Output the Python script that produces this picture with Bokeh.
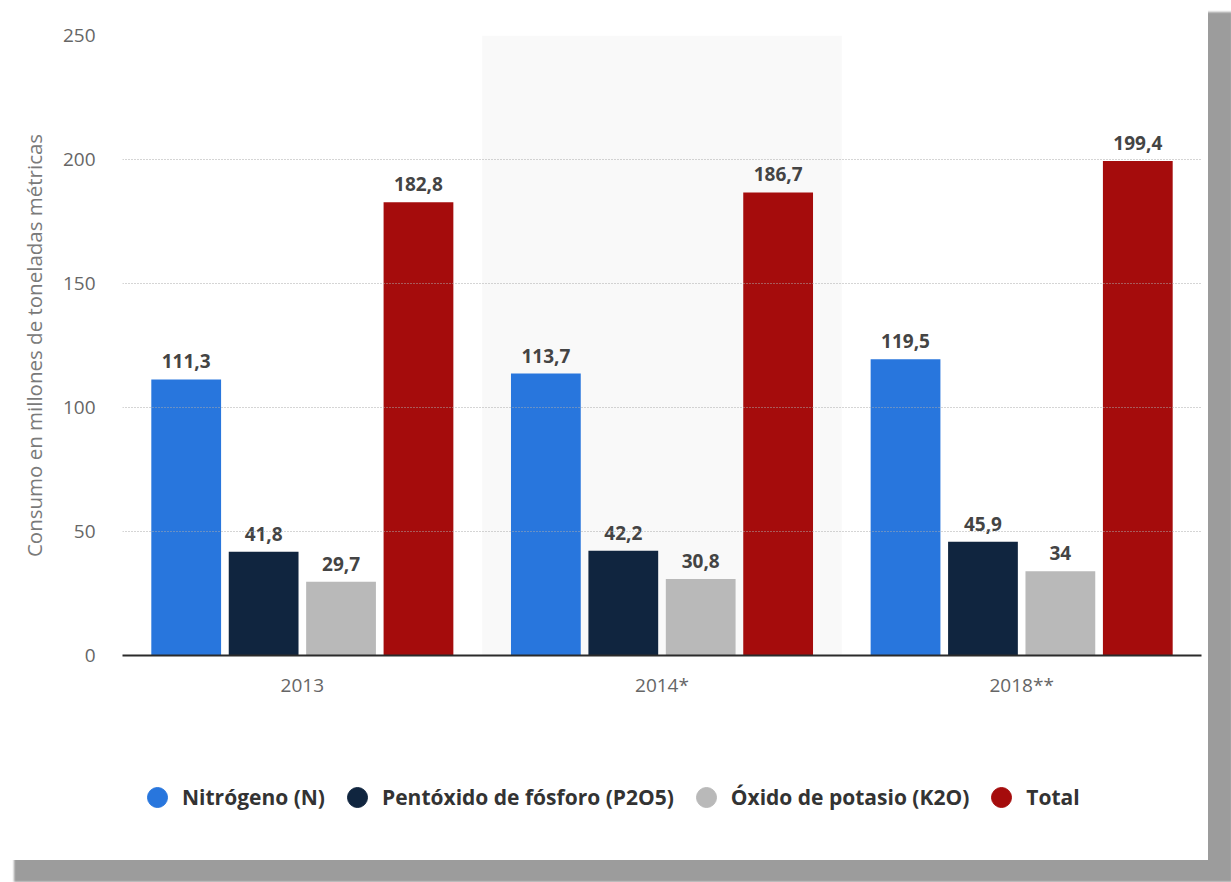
from bokeh.plotting import figure
from bokeh.layouts import column
from bokeh.models import (ColumnDataSource, FactorRange, FixedTicker, Legend, LegendItem, Range1d)
from bokeh.transform import dodge
from bokeh.core.properties import value
from bokeh.embed import file_html
from bokeh.resources import INLINE

# ---- data ----
years = ["2013", "2014*", "2018**"]
nitrogeno = [111.3, 113.7, 119.5]
pentoxido = [41.8, 42.2, 45.9]
oxido = [29.7, 30.8, 34]
total = [182.8, 186.7, 199.4]
series_names = ["Nitrógeno (N)", "Pentóxido de fósforo (P2O5)", "Óxido de potasio (K2O)", "Total"]
series_values = [nitrogeno, pentoxido, oxido, total]
colors = ["#2876dd", "#10253f", "#b9b9b9", "#a50c0c"]
highlighted = ["2014*"]
y_ticks = [0, 50, 100, 150, 200, 250]
y_max = 250
y_title = "Consumo en millones de toneladas métricas"

FONT = "Open Sans"

xr = FactorRange(*years, range_padding=0)
yr = Range1d(0, y_max)
p = figure(x_range=xr, y_range=yr,
           width=1208, height=710, output_backend="svg", toolbar_location=None,
           min_border_left=122, min_border_right=7, min_border_top=35,
           min_border_bottom=55)
p.background_fill_color = "white"
p.border_fill_color = "white"
p.outline_line_color = None

# highlight band
p.vbar(x=highlighted, top=[y_max] * len(highlighted), width=1, bottom=0,
       fill_color="#f9f9f9", line_color=None, level="underlay")

offsets = [-0.3229, -0.1076, 0.1076, 0.3229]
bar_w = 0.194
sources = []
for name, vals, col, off in zip(series_names, series_values, colors, offsets):
    src = ColumnDataSource(dict(x=years, y=vals,
                                lab=[f"{v:g}".replace(".", ",") for v in vals]))
    sources.append(src)
    p.vbar(x=dodge("x", off, range=xr), top="y", width=bar_w, source=src,
           fill_color=col, line_color=None)
    p.text(x=dodge("x", off, range=xr), y="y", text="lab", source=src,
           text_align="center", text_baseline="alphabetic", y_offset=-18,
           text_font=value(FONT), text_font_style="bold", text_font_size="19px",
           text_color="#444444")

# grid
p.xgrid.grid_line_color = None
p.ygrid.ticker = FixedTicker(ticks=y_ticks)
p.ygrid.grid_line_color = "#aaaaaa"
p.ygrid.grid_line_dash = "1 2"
p.ygrid.grid_line_width = 1
p.ygrid.level = "glyph"

# y axis
p.yaxis.ticker = FixedTicker(ticks=y_ticks)
p.yaxis.axis_line_color = None
p.yaxis.major_tick_line_color = None
p.yaxis.minor_tick_line_color = None
p.yaxis.major_tick_out = 0
p.yaxis.major_label_standoff = 27
p.yaxis.major_label_text_font = FONT
p.yaxis.major_label_text_font_size = "19px"
p.yaxis.major_label_text_color = "#666666"
p.yaxis.axis_label = y_title
p.yaxis.axis_label_text_font = FONT
p.yaxis.axis_label_text_font_style = "normal"
p.yaxis.axis_label_text_font_size = "20.5px"
p.yaxis.axis_label_text_color = "#7a7a7a"
p.yaxis.axis_label_standoff = 12

# x axis
p.xaxis.axis_line_color = "#2b2b2b"
p.xaxis.axis_line_width = 2
p.xaxis.major_tick_line_color = None
p.xaxis.minor_tick_line_color = None
p.xaxis.major_tick_out = 0
p.xaxis.major_label_standoff = 16
p.xaxis.major_label_text_font = FONT
p.xaxis.major_label_text_font_size = "19px"
p.xaxis.major_label_text_color = "#666666"

# legend strip (separate figure below the chart, sharing the chart's scales)
pl = figure(width=1208, height=150, x_range=xr, y_range=yr,
            output_backend="svg", toolbar_location=None,
            x_axis_location=None, y_axis_location=None,
            min_border=0)
pl.grid.grid_line_color = None
pl.outline_line_color = None
pl.background_fill_color = "white"
pl.border_fill_color = "white"
items = []
for name, col, src, off in zip(series_names, colors, sources, offsets):
    # zero-size markers: only their legend swatch is visible
    r = pl.scatter(x=dodge("x", off, range=xr), y="y", source=src, size=0,
                   marker="circle", fill_color=col, line_color=col)
    items.append(LegendItem(label=name, renderers=[r]))
legend = Legend(items=items, orientation="horizontal", location=(10, 38),
                glyph_width=50, glyph_height=50, label_standoff=-4, spacing=7,
                padding=0, margin=0, background_fill_alpha=0, border_line_color=None,
                label_text_font=FONT, label_text_font_style="bold",
                label_text_font_size="21px", label_text_color="#333333",
                label_text_baseline="middle")
pl.add_layout(legend, "center")

layout = column(p, pl, spacing=0)
layout.styles = {"box-shadow": "19px 17px 2px 5px #9c9c9c", "background-color": "white"}

open("out.html", "w").write(file_html(layout, INLINE))
